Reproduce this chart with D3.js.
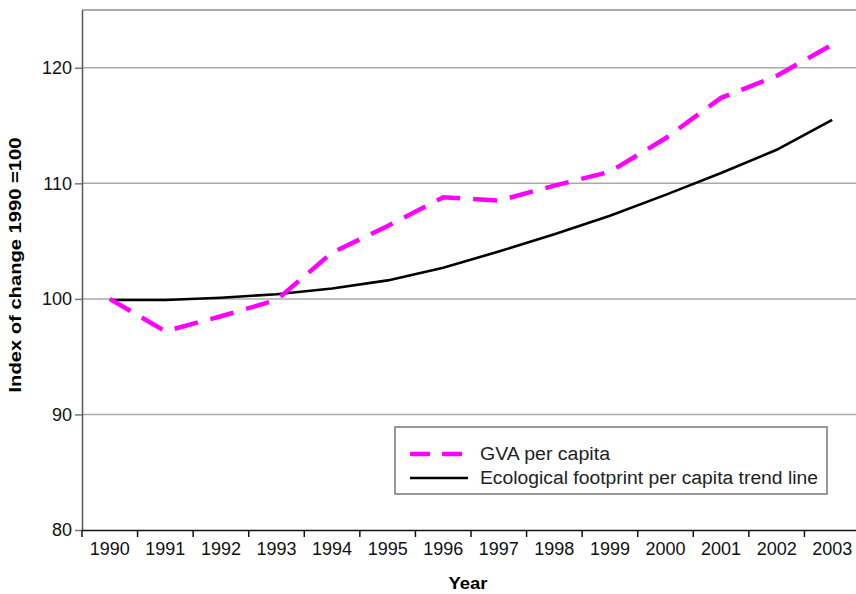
<!DOCTYPE html>
<html>
<head>
<meta charset="utf-8">
<script src="https://cdn.jsdelivr.net/npm/d3@7"></script>
<style>
  body { margin: 0; background: #fff; }
  svg { display: block; font-family: "Liberation Sans", Arial, sans-serif; }
</style>
</head>
<body>
<div id="chart"></div>
<script>
var years = ['1990', '1991', '1992', '1993', '1994', '1995', '1996', '1997', '1998', '1999', '2000', '2001', '2002', '2003'];
var gvaPerCapita = [100.0, 97.2, 98.5, 99.9, 104.0, 106.3, 108.8, 108.5, 109.8, 111.0, 113.9, 117.4, 119.3, 122.0];
var footprintTrend = [99.9, 99.9, 100.1, 100.4, 100.9, 101.6, 102.7, 104.1, 105.6, 107.2, 109.0, 110.9, 112.9, 115.5];
var yTicks = [80, 90, 100, 110, 120];

var margin = {top: 10, bottom: 64, left: 82, right: -4};
var width = 856 - margin.left - margin.right,
    height = 594 - margin.top - margin.bottom;

var svg = d3.select('#chart').append('svg')
    .attr('width', 856)
    .attr('height', 594);

var g = svg.append('g')
    .attr('transform', 'translate(' + margin.left + ',' + margin.top + ')');

var x = d3.scaleBand()
    .domain(years)
    .range([0, width])
    .padding(0);

var y = d3.scaleLinear()
    .domain([80, 125])
    .range([height, 0]);

// gridlines
g.selectAll('.grid')
    .data(yTicks.filter(function (d) { return d > 80; }))
    .enter().append('line')
    .attr('class', 'grid')
    .attr('x1', 0)
    .attr('x2', width)
    .attr('y1', function (d) { return y(d); })
    .attr('y2', function (d) { return y(d); })
    .attr('stroke', '#aaaaaa')
    .attr('stroke-width', 1.5);

// top border
g.append('line')
    .attr('x1', 0).attr('x2', width)
    .attr('y1', y(125)).attr('y2', y(125))
    .attr('stroke', '#8c8c8c')
    .attr('stroke-width', 1.5);

// y axis
var yAxisCall = d3.axisLeft(y).tickValues(yTicks).tickSize(7).tickSizeOuter(0).tickPadding(3);
var yAxis = g.append('g')
    .attr('class', 'y-axis')
    .call(yAxisCall);
yAxis.select('.domain').attr('stroke', '#555').attr('stroke-width', 1.5);
yAxis.selectAll('.tick line').attr('stroke', '#777').attr('stroke-width', 1.5);
yAxis.selectAll('text')
    .attr('font-size', '18px')
    .attr('fill', '#111')
    .attr('font-family', '"Liberation Sans", Arial, sans-serif');

// x axis, ticks at band boundaries
var xAxisCall = d3.axisBottom(x).tickSize(0).tickSizeOuter(0).tickPadding(12);
var xAxis = g.append('g')
    .attr('class', 'x-axis')
    .attr('transform', 'translate(0,' + height + ')')
    .call(xAxisCall);
xAxis.select('.domain').attr('stroke', '#111').attr('stroke-width', 1.5);
xAxis.selectAll('text')
    .attr('font-size', '18px')
    .attr('fill', '#111')
    .attr('font-family', '"Liberation Sans", Arial, sans-serif');
xAxis.selectAll('.bnd')
    .data(years)
    .enter().append('line')
    .attr('class', 'bnd')
    .attr('x1', function (d) { return x(d); })
    .attr('x2', function (d) { return x(d); })
    .attr('y1', 0)
    .attr('y2', 7)
    .attr('stroke', '#111')
    .attr('stroke-width', 1.5);

var cx = function (d, i) { return x(years[i]) + x.bandwidth() / 2; };

var line = d3.line()
    .x(function (d, i) { return cx(d, i); })
    .y(function (d) { return y(d); });

g.append('path')
    .datum(footprintTrend)
    .attr('fill', 'none')
    .attr('stroke', '#000')
    .attr('stroke-width', 2.6)
    .attr('d', line);

g.append('path')
    .datum(gvaPerCapita)
    .attr('fill', 'none')
    .attr('stroke', '#ff00ff')
    .attr('stroke-width', 4.5)
    .attr('stroke-dasharray', '24,13')
    .attr('d', line);

// axis titles
g.append('text')
    .attr('x', -(height / 2) + 5)
    .attr('y', -61)
    .attr('font-size', '16px')
    .attr('font-weight', 'bold')
    .attr('text-anchor', 'middle')
    .attr('textLength', 255)
    .attr('lengthAdjust', 'spacingAndGlyphs')
    .attr('transform', 'rotate(-90)')
    .text('Index of change 1990 =100');

g.append('text')
    .attr('x', 386)
    .attr('y', height + 59)
    .attr('font-size', '16px')
    .attr('font-weight', 'bold')
    .attr('text-anchor', 'middle')
    .attr('textLength', 39)
    .attr('lengthAdjust', 'spacingAndGlyphs')
    .text('Year');

// legend
var legend = svg.append('g')
    .attr('transform', 'translate(395,427)');
legend.append('rect')
    .attr('width', 432)
    .attr('height', 67)
    .attr('fill', '#fff')
    .attr('stroke', '#777')
    .attr('stroke-width', 1.5);
var legendItems = [
    {label: 'GVA per capita', color: '#ff00ff', dash: '20,12', w: 4.5, len: 130},
    {label: 'Ecological footprint per capita trend line', color: '#000', dash: null, w: 2.6, len: 338}
];
legendItems.forEach(function (d, i) {
    var ly = 27 + i * 24;
    legend.append('line')
        .attr('x1', 15).attr('x2', 73)
        .attr('y1', ly).attr('y2', ly)
        .attr('stroke', d.color)
        .attr('stroke-width', d.w)
        .attr('stroke-dasharray', d.dash);
    legend.append('text')
        .attr('x', 85)
        .attr('y', ly + 6)
        .attr('font-size', '18px')
        .attr('fill', '#222')
        .attr('textLength', d.len)
        .attr('lengthAdjust', 'spacingAndGlyphs')
        .text(d.label);
});
</script>
</body>
</html>
